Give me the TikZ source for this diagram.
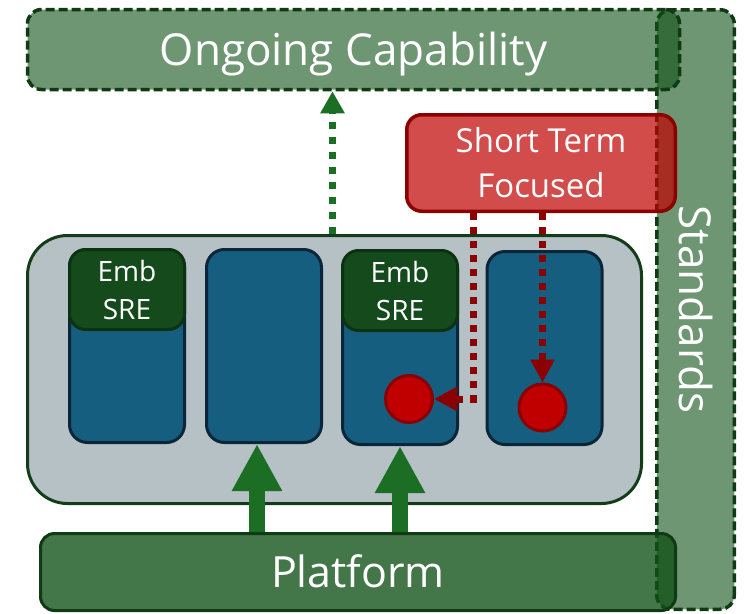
\documentclass[tikz,border=0pt]{standalone}
\usepackage{fontspec}
\setmainfont{Open Sans}
\usetikzlibrary{arrows.meta,calc}
\definecolor{gdark}{RGB}{15,80,22}
\definecolor{gline}{RGB}{15,58,20}
\definecolor{redc}{RGB}{192,0,0}
\definecolor{redline}{RGB}{139,0,0}
\definecolor{contfill}{RGB}{182,193,198}
\definecolor{contline}{RGB}{20,60,25}
\definecolor{bluefill}{RGB}{22,94,128}
\definecolor{blueline}{RGB}{10,38,56}
\definecolor{embfill}{RGB}{21,74,28}
\definecolor{embline}{RGB}{12,50,18}
\definecolor{garrow}{RGB}{27,110,35}
\begin{document}
\begin{tikzpicture}[x=1pt,y=-1pt,
  band/.style={draw=gline, line width=3.5pt, dash pattern=on 9pt off 4pt,
    fill=gdark, fill opacity=0.6, text opacity=1, rounded corners=14pt,
    text=white, inner sep=0pt, font=\fontsize{44}{50}\selectfont},
  platbox/.style={draw=gline, line width=3pt, fill=gdark, fill opacity=0.785,
    text opacity=1, rounded corners=14pt, text=white, inner sep=0pt,
    font=\fontsize{43}{50}\selectfont},
  redbox/.style={draw=redline, line width=3.5pt, fill=redc, fill opacity=0.7,
    text opacity=1, rounded corners=15pt, text=white, inner sep=0pt,
    align=center, font=\fontsize{33}{45}\selectfont},
  contbox/.style={draw=contline, line width=3pt, fill=contfill,
    rounded corners=40pt, inner sep=0pt},
  colbox/.style={draw=blueline, line width=3pt, fill=bluefill,
    rounded corners=18pt, minimum width=115pt, minimum height=193pt, inner sep=0pt},
  embbox/.style={draw=embline, line width=3pt, fill=embfill,
    rounded corners=16pt, minimum width=115pt, minimum height=80pt, inner sep=0pt,
    text=white, align=center, font=\fontsize{28}{38}\selectfont},
  dot/.style={circle, draw=redline, line width=3pt, fill=redc, minimum size=47pt, inner sep=0pt},
  gdot/.style={draw=garrow, line width=7pt, dash pattern=on 7pt off 8pt,
    -{Triangle[length=22pt,width=23pt]}},
  rdot/.style={draw=redline, line width=7pt, dash pattern=on 7pt off 7pt,
    -{Triangle[length=23pt,width=23pt]}},
  gthick/.style={draw=garrow, line width=16pt, -{Triangle[length=47pt,width=47pt]}}
]
\useasboundingbox (0,0) rectangle (746,613);

\node[band, rotate=-90, minimum width=599.5pt, minimum height=77.5pt] (std) at (695.5,309.5) {Standards};
\node[band, minimum width=652pt, minimum height=80pt, text height=31.4pt, text depth=0pt] (ong) at (353.5,49.5) {Ongoing Capability};

\node[contbox, minimum width=614pt, minimum height=268pt] (cont) at (334.5,369.5) {};

\node[colbox] (c1) at (127,346) {};
\node[colbox] (c2) at (264,346) {};
\node[colbox] (c3) at (400,348) {};
\node[colbox] (c4) at (544.5,348) {};

\node[embbox] (e1) at (127,289.5) {Emb\\SRE};
\node[embbox] (e3) at (400,290.5) {Emb\\SRE};

\node[dot] (ca) at (409,399) {};
\node[dot] (cb) at (542.5,407.5) {};

\node[platbox, minimum width=635pt, minimum height=77pt, text height=30.7pt, text depth=0pt] (plat) at (358,572) {Platform};

\node[redbox, minimum width=268.5pt, minimum height=96.5pt] (stf) at (541,163) {Short Term\\Focused};

\draw[gdot] ($(cont.north)+(-2,0)$) -- ($(cont.north |- ong.south)+(-2,0)$);
\draw[rdot] ($(stf.south)+(-68,0)$) |- (ca.east);
\draw[rdot] (stf.south -| cb.north) -- (cb.north);

\draw[gthick] ($(c2.south |- plat.north)+(-7,0)$) -- ($(c2.south)+(-7,0)$);
\draw[gthick] (c3.south |- plat.north) -- (c3.south);
\end{tikzpicture}
\end{document}
